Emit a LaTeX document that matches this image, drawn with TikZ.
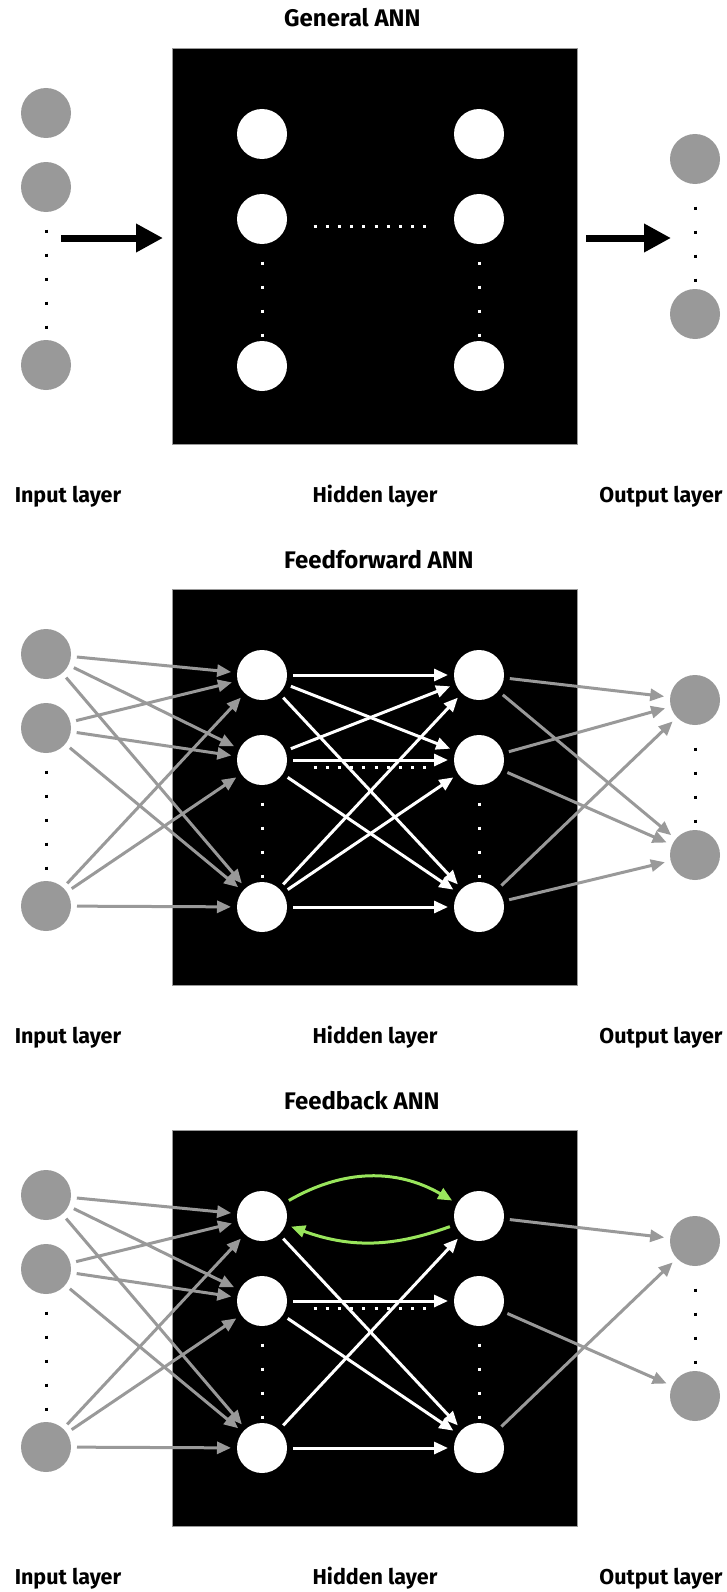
\documentclass[tikz,border=0pt]{standalone}
\usepackage{fontspec}
\setmainfont{Fira Sans}
\usetikzlibrary{arrows.meta}
\definecolor{unitgray}{HTML}{999999}
\definecolor{loopgreen}{HTML}{99E55C}

\begin{document}
\begin{tikzpicture}[
    x=1pt, y=-1pt,
    box/.style={draw=unitgray, fill=black, line width=0.8pt, minimum width=405pt, minimum height=396pt, inner sep=0pt, outer sep=0pt},
    io/.style={circle, fill=unitgray, minimum size=50pt, inner sep=0pt, outer sep=6pt},
    unit/.style={circle, fill=white, minimum size=50pt, inner sep=0pt, outer sep=6pt},
    title/.style={anchor=base west, inner sep=0pt, font=\fontsize{24}{28}\selectfont\bfseries},
    layer/.style={anchor=base, inner sep=0pt, font=\fontsize{21.5}{26}\selectfont\bfseries},
    garr/.style={-{Triangle[length=14pt,width=12pt]}, line width=3pt, unitgray},
    warr/.style={-{Triangle[length=14pt,width=12pt]}, line width=3pt, white},
    fb/.style={-{Triangle[length=14pt,width=12pt]}, line width=3pt, loopgreen},
    big/.style={-{Triangle[length=27pt,width=27pt]}, line width=7pt, black},
    vdots/.style={line width=3pt, dash pattern=on 3pt off 21pt},
    hdots/.style={line width=3pt, white, dash pattern=on 3pt off 9.22pt}
]
\useasboundingbox (0,0) rectangle (726,1592);

% three panels, same layout
\foreach \p/\dy/\name in {1/0/General ANN, 2/541/Feedforward ANN, 3/1082/Feedback ANN} {
  \node[title] (title\p) at (284,27+\dy) {\name};
  \node[box] (box\p) at (374.5,246+\dy) {};
  % input layer
  \node[io] (in\p-1) at (46,113+\dy) {};
  \node[io] (in\p-2) at (46,187+\dy) {};
  \node[io] (in\p-3) at (46,365+\dy) {};
  \draw[vdots] (46,229.5+\dy) -- (46,329+\dy);
  % hidden layer
  \node[unit] (hl\p-1) at (262,134+\dy) {};
  \node[unit] (hl\p-2) at (262,219+\dy) {};
  \node[unit] (hl\p-3) at (262,366+\dy) {};
  \node[unit] (hr\p-1) at (479,134+\dy) {};
  \node[unit] (hr\p-2) at (479,219+\dy) {};
  \node[unit] (hr\p-3) at (479,366+\dy) {};
  \draw[vdots, white] (262,261.5+\dy) -- (262,336.5+\dy);
  \draw[vdots, white] (479,261.5+\dy) -- (479,336.5+\dy);
  \draw[hdots] (313.5,226+\dy) -- (426.5,226+\dy);
  % output layer
  \node[io] (out\p-1) at (695,159+\dy) {};
  \node[io] (out\p-2) at (695,314+\dy) {};
  \draw[vdots] (695,206.5+\dy) -- (695,281.5+\dy);
  % labels
  \node[layer] (lin\p) at (68,502+\dy) {Input layer};
  \node[layer] (lhid\p) at (375,502+\dy) {Hidden layer};
  \node[layer] (lout\p) at (661,502+\dy) {Output layer};
}

% General ANN
\coordinate (gin) at (61,238);
\coordinate (gout) at (671,238);
\draw[big, shorten >=9pt] (gin) -- (box1.west |- gin);
\draw[big, shorten <=9pt] (box1.east |- gout) -- (gout);

% Feedforward ANN
\foreach \i in {1,2,3} {
  \foreach \j in {1,2,3} {
    \draw[garr] (in2-\i) -- (hl2-\j);
    \draw[warr] (hl2-\i) -- (hr2-\j);
  }
  \draw[garr] (hr2-\i) -- (out2-1);
  \draw[garr] (hr2-\i) -- (out2-2);
}

% Feedback ANN
\foreach \i in {1,2,3} {
  \foreach \j in {1,2,3} {
    \draw[garr] (in3-\i) -- (hl3-\j);
  }
}
\draw[warr] (hl3-1) -- (hr3-3);
\draw[warr] (hl3-2) -- (hr3-2);
\draw[warr] (hl3-2) -- (hr3-3);
\draw[warr] (hl3-3) -- (hr3-1);
\draw[warr] (hl3-3) -- (hr3-3);
\draw[fb] (hl3-1) to[bend left=30] (hr3-1);
\draw[fb] (hr3-1) to[bend left=20] (hl3-1);
\draw[garr] (hr3-1) -- (out3-1);
\draw[garr] (hr3-2) -- (out3-2);
\draw[garr] (hr3-3) -- (out3-1);
\end{tikzpicture}
\end{document}
